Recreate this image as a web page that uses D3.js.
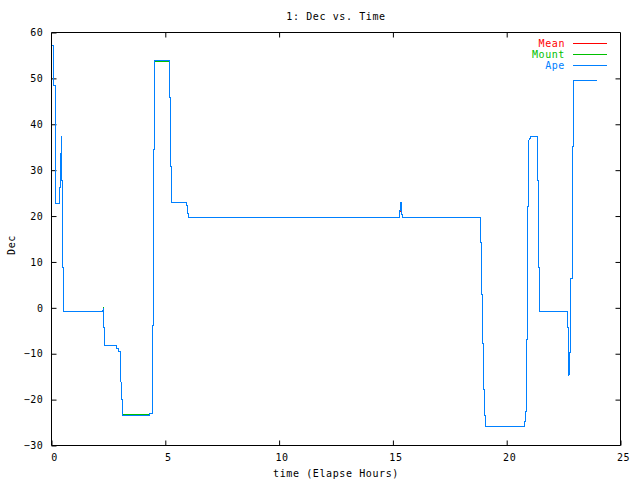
<!DOCTYPE html>
<html>
<head>
<meta charset="utf-8">
<script src="https://cdn.jsdelivr.net/npm/d3@7"></script>
<style>
  body { margin: 0; background: #fff; }
  text { font-family: "DejaVu Sans Mono", "Liberation Mono", monospace; font-size: 10px; letter-spacing: 0.6px; }
</style>
</head>
<body>
<svg id="chart" width="640" height="480"></svg>
<script>
// ---- data ----
const title = "1: Dec vs. Time";
const xLabel = "time (Elapse Hours)";
const yLabel = "Dec";
const seriesNames = ["Mean", "Mount", "Ape"];
const seriesColors = ["#ff0000", "#00c000", "#0080ff"];
const xTicks = [0, 5, 10, 15, 20, 25];
const yTicks = [-30, -20, -10, 0, 10, 20, 30, 40, 50, 60];

const hours = [
0.03,0.10,0.10,0.16,0.16,0.19,0.19,0.36,0.36,0.41,
0.41,0.42,0.44,0.44,0.45,0.48,0.48,0.54,0.54,2.25,
2.28,2.29,2.29,2.34,2.34,2.87,2.87,2.94,2.94,3.04,
3.04,3.07,3.13,3.13,4.29,4.29,4.44,4.44,4.49,4.49,
4.53,4.53,5.18,5.18,5.23,5.23,5.28,5.28,5.92,5.92,
5.97,5.97,6.02,6.02,15.28,15.28,15.33,15.33,15.37,15.37,
15.39,15.39,15.43,15.43,18.85,18.85,18.88,18.88,18.92,18.92,
18.97,18.97,19.01,19.01,19.07,19.07,20.77,20.77,20.81,20.81,
20.85,20.85,20.92,20.92,20.96,20.96,21.03,21.07,21.36,21.36,
21.38,21.38,21.43,21.43,22.65,22.65,22.70,22.70,22.73,22.73,
22.77,22.77,22.82,22.82,22.87,22.87,22.92,22.92,23.96
];

const apeDec = [
57.2,57.2,48.5,48.5,31.5,31.5,22.8,22.8,26.3,26.3,
33.7,27.8,27.8,37.4,27.8,27.8,8.7,8.7,-0.8,-0.8,
-0.1,-0.1,-4.2,-4.2,-8.3,-8.3,-8.8,-8.8,-9.5,-9.5,
-13,-20,-20,-23.5,-23.5,-23.1,-23.1,-3.8,-3.8,34.5,
34.5,53.8,53.8,45.9,45.9,30.7,30.7,23,23,22.2,
22.2,20.6,20.6,19.7,19.7,21.3,21.3,23,23,22.2,
22.2,20.4,20.4,19.7,19.7,14.2,14.2,3,3,-7.7,
-7.7,-17.7,-17.7,-23.4,-23.4,-25.9,-25.9,-24.7,-24.7,-22.5,
-22.5,-6.8,-6.8,22,22,36.5,36.9,37.4,37.4,27.8,
27.8,8.8,8.8,-0.8,-0.8,-4.2,-4.2,-11.3,-11.3,-14.9,
-13.1,-9.8,-9.8,6.3,6.3,35.1,35.1,49.6,49.6
];

const mountDec = [
57.2,57.2,48.5,48.5,31.5,31.5,22.8,22.8,26.3,26.3,
33.7,27.8,27.8,37.4,27.8,27.8,8.7,8.7,-0.8,-0.8,
0.0,0.0,-4.2,-4.2,-8.3,-8.3,-8.8,-8.8,-9.5,-9.5,
-13,-20,-20,-23.3,-23.3,-23.1,-23.1,-3.8,-3.8,34.5,
34.5,53.6,53.6,45.9,45.9,30.7,30.7,23,23,22.2,
22.2,20.6,20.6,19.7,19.7,21.3,21.3,23,23,22.2,
22.2,20.4,20.4,19.7,19.7,14.2,14.2,3,3,-7.7,
-7.7,-17.7,-17.7,-23.4,-23.4,-25.9,-25.9,-24.7,-24.7,-22.5,
-22.5,-6.8,-6.8,22,22,36.5,36.9,37.4,37.4,27.8,
27.8,8.8,8.8,-0.8,-0.8,-4.2,-4.2,-11.3,-11.3,-14.9,
-13.1,-9.8,-9.8,6.3,6.3,35.1,35.1,49.6,49.6
];

const meanDec = [
57.2,57.2,48.5,48.5,31.5,31.5,22.8,22.8,26.3,26.3,
33.7,27.8,27.8,37.4,27.8,27.8,8.7,8.7,-0.8,-0.8,
-0.1,-0.1,-4.2,-4.2,-8.3,-8.3,-8.8,-8.8,-9.5,-9.5,
-13,-20,-20,-23.5,-23.5,-23.1,-23.1,-3.8,-3.8,34.5,
34.5,53.8,53.8,45.9,45.9,30.7,30.7,23,23,22.2,
22.2,20.6,20.6,19.7,19.7,21.1,21.1,23,23,22.2,
22.2,20.4,20.4,19.7,19.7,14.2,14.2,3,3,-7.7,
-7.7,-17.7,-17.7,-23.4,-23.4,-25.9,-25.9,-24.7,-24.7,-22.5,
-22.5,-6.8,-6.8,22,22,36.5,36.9,37.4,37.4,27.8,
27.8,8.8,8.8,-0.8,-0.8,-4.2,-4.2,-11.3,-11.3,-14.9,
-13.1,-9.8,-9.8,6.3,6.3,35.1,35.1,49.6,49.6
];

// ---- chart ----
const svg = d3.select("#chart");
const mLeft = 51.5, mRight = 620.5, mTop = 32.5, mBottom = 445.5;
const x = d3.scaleLinear().domain([0, 25]).range([mLeft, mRight]);
const y = d3.scaleLinear().domain([-30, 60]).range([mBottom, mTop]);
const tickLen = 5;

function styleAxis(g) {
  g.select(".domain").remove();
  g.selectAll("line").attr("stroke", "#000");
  g.selectAll("text").attr("fill", "#000").style("font-family", "DejaVu Sans Mono, monospace").style("font-size", "10px");
}

// bottom axis with labels
svg.append("g").attr("transform", `translate(0,${mBottom})`)
  .call(d3.axisBottom(x).tickValues(xTicks).tickSizeInner(-tickLen).tickSizeOuter(0).tickPadding(8).tickFormat(d3.format("d")))
  .call(styleAxis)
  .call(g => g.selectAll(".tick text").attr("dx", 2.5));
// top mirror
svg.append("g").attr("transform", `translate(0,${mTop})`)
  .call(d3.axisTop(x).tickValues(xTicks.filter(d => d > 0 && d < 25)).tickSizeInner(-tickLen).tickSizeOuter(0).tickFormat(""))
  .call(styleAxis);
// left axis with labels
svg.append("g").attr("transform", `translate(${mLeft},0)`)
  .call(d3.axisLeft(y).tickValues(yTicks).tickSizeInner(-tickLen).tickSizeOuter(0).tickPadding(8).tickFormat(d3.format("d")))
  .call(styleAxis);
// right mirror
svg.append("g").attr("transform", `translate(${mRight},0)`)
  .call(d3.axisRight(y).tickValues(yTicks.filter(d => d > -30 && d < 60)).tickSizeInner(-tickLen).tickSizeOuter(0).tickFormat(""))
  .call(styleAxis);

// frame
svg.append("path")
  .attr("d", `M${mLeft},${mTop}H${mRight}V${mBottom}H${mLeft}Z`)
  .attr("fill", "none").attr("stroke", "#000").attr("stroke-width", 1);

// titles
svg.append("text").attr("x", 336).attr("y", 20).attr("text-anchor", "middle").text(title);
svg.append("text").attr("x", 336).attr("y", 477).attr("text-anchor", "middle").text(xLabel);
svg.append("text").attr("transform", "translate(15,245) rotate(-90)").attr("text-anchor", "middle").text(yLabel);

// series
const seriesValues = [meanDec, mountDec, apeDec];
const line = d3.line().x(d => x(d[0])).y(d => y(d[1]));
seriesValues.forEach((vals, i) => {
  const pts = hours.map((h, j) => [h, vals[j]]);
  svg.append("path").datum(pts)
    .attr("d", line)
    .attr("fill", "none")
    .attr("stroke", seriesColors[i])
    .attr("stroke-width", 1)
    .attr("shape-rendering", "crispEdges");
});

// legend
const legY = [43, 54, 65];
seriesNames.forEach((name, i) => {
  svg.append("text").attr("x", 565).attr("y", legY[i] + 3.5)
    .attr("text-anchor", "end").attr("fill", seriesColors[i]).text(name);
  svg.append("line").attr("x1", 573).attr("x2", 607)
    .attr("y1", legY[i] + 0.5).attr("y2", legY[i] + 0.5)
    .attr("stroke", seriesColors[i]).attr("stroke-width", 1);
});
</script>
</body>
</html>
